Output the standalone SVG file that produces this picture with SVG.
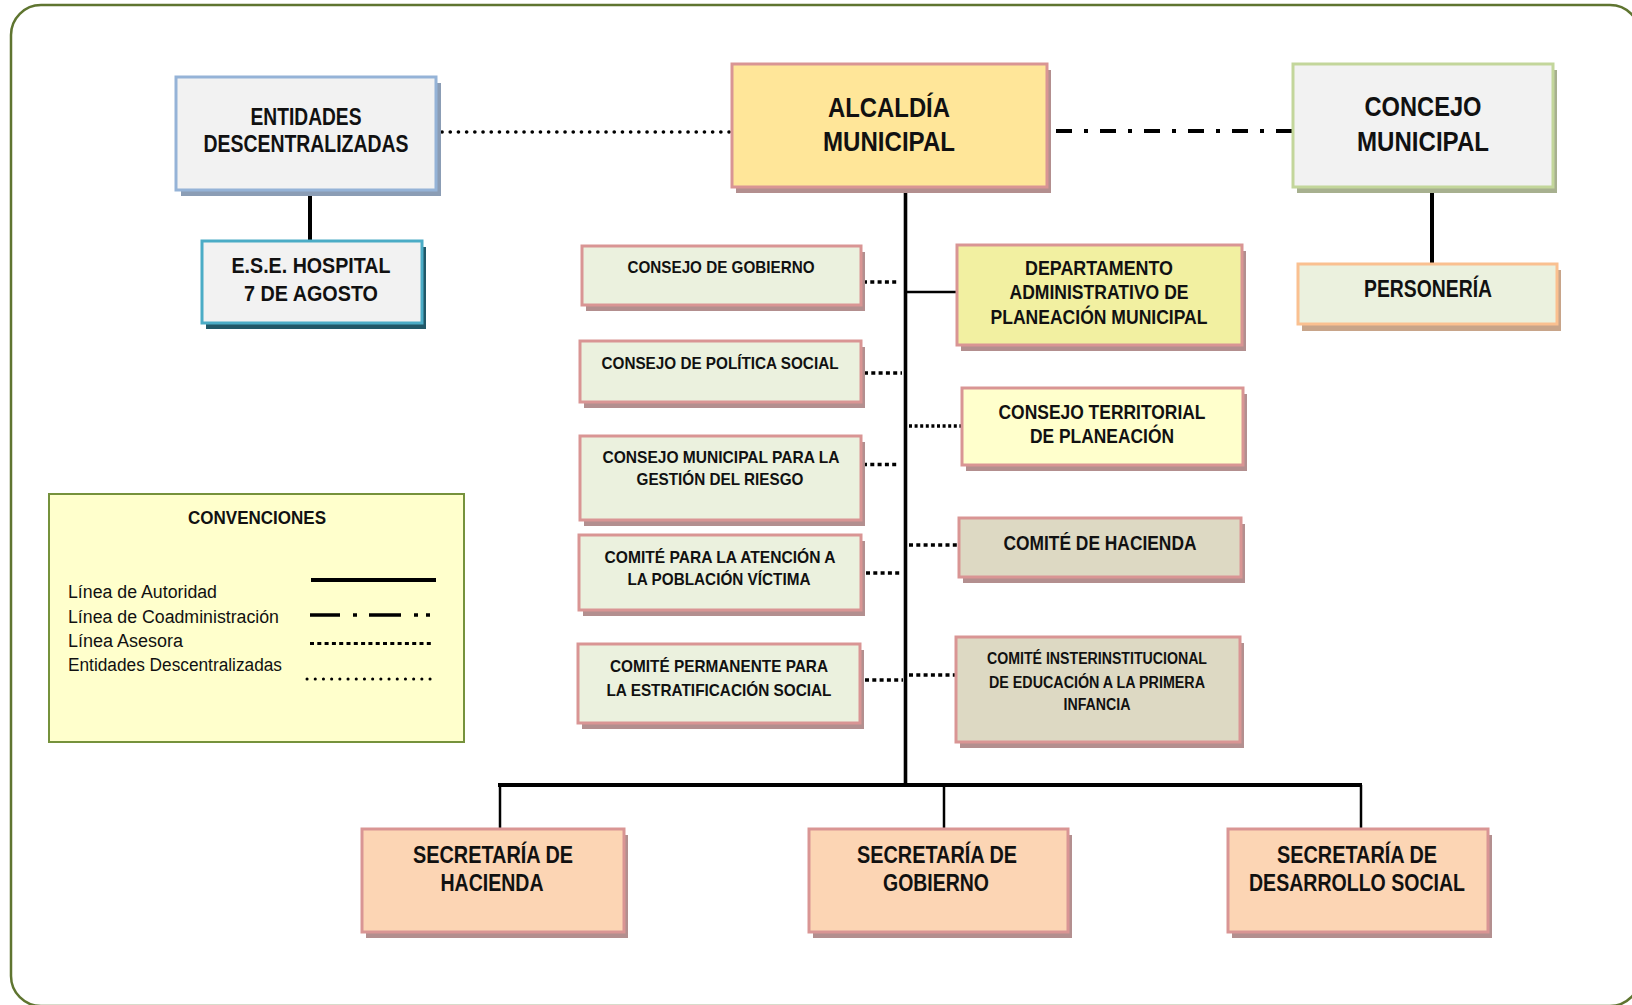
<svg xmlns="http://www.w3.org/2000/svg" width="1632" height="1005" viewBox="0 0 1632 1005">
<style>
.t{font-family:"Liberation Sans Narrow","Liberation Sans",Arial,sans-serif;font-weight:bold;fill:#111;text-anchor:middle}
.lg{font-family:"Liberation Sans Narrow","Liberation Sans",Arial,sans-serif;fill:#111}
.box{stroke-width:3}
.pink{stroke:#d99594}
.sh{fill:#b38f8f}
.auth{stroke:#000;fill:none}
.ases{stroke:#000;stroke-width:3.5;stroke-dasharray:4 3.3;fill:none}
.ent{stroke:#000;stroke-width:3.6;stroke-linecap:round;stroke-dasharray:0.1 8.1;fill:none}
.coad{stroke:#000;stroke-width:4;stroke-dasharray:16 12 4 12;fill:none}
</style>
<rect x="0" y="0" width="1632" height="1005" fill="#fff"/>
<rect x="11" y="5" width="1629" height="1001" rx="30" ry="30" fill="#fff" stroke="#5f7530" stroke-width="2.5"/>

<g id="connectors">
  <line class="auth" x1="310" y1="190" x2="310" y2="241" stroke-width="4"/>
  <line class="auth" x1="905.5" y1="187" x2="905.5" y2="787" stroke-width="3.6"/>
  <line class="auth" x1="905.5" y1="292" x2="957" y2="292" stroke-width="2.5"/>
  <line class="auth" x1="498" y1="785" x2="1362" y2="785" stroke-width="4"/>
  <line class="auth" x1="500" y1="785" x2="500" y2="829" stroke-width="2.5"/>
  <line class="auth" x1="944" y1="785" x2="944" y2="832" stroke-width="2.5"/>
  <line class="auth" x1="1361" y1="785" x2="1361" y2="832" stroke-width="2.5"/>
  <line class="auth" x1="1432" y1="189" x2="1432" y2="264" stroke-width="4"/>
  <line class="ent" x1="442" y1="132" x2="731" y2="132"/>
  <line class="coad" x1="1056" y1="131" x2="1293" y2="131"/>
  <line class="ases" x1="863" y1="282" x2="898" y2="282"/>
  <line class="ases" x1="864" y1="373" x2="902" y2="373"/>
  <line class="ases" x1="863" y1="464.5" x2="899" y2="464.5"/>
  <line class="ases" x1="866" y1="573" x2="902" y2="573"/>
  <line class="ases" x1="865" y1="680" x2="903" y2="680"/>
  <line class="ases" x1="909" y1="426" x2="961" y2="426" stroke="#555" stroke-width="3" style="stroke-dasharray:3 2.6"/>
  <line class="ases" x1="909" y1="545" x2="958" y2="545"/>
  <line class="ases" x1="909" y1="675" x2="956" y2="675"/>
</g>

<g id="entidades">
  <rect x="181" y="83" width="260" height="113" fill="#8b9db5"/>
  <rect class="box" x="176" y="77" width="260" height="113" fill="#f2f2f2" stroke="#95b3d7"/>
  <text class="t" x="306" y="125" font-size="23" textLength="111" lengthAdjust="spacingAndGlyphs">ENTIDADES</text>
  <text class="t" x="306" y="152" font-size="23" textLength="205" lengthAdjust="spacingAndGlyphs">DESCENTRALIZADAS</text>
</g>
<g id="ese_hospital">
  <rect x="206" y="247" width="220" height="82" fill="#215868"/>
  <rect class="box" x="202" y="241" width="220" height="82" fill="#f2f2f2" stroke="#4bacc6"/>
  <text class="t" x="311" y="273" font-size="22" textLength="159" lengthAdjust="spacingAndGlyphs">E.S.E. HOSPITAL</text>
  <text class="t" x="311" y="301" font-size="22" textLength="134" lengthAdjust="spacingAndGlyphs">7 DE AGOSTO</text>
</g>
<g id="alcaldia">
  <rect class="sh" x="736" y="70" width="315" height="123"/>
  <rect class="box pink" x="732" y="64" width="315" height="123" fill="#ffe699"/>
  <text class="t" x="889" y="117" font-size="27" textLength="122" lengthAdjust="spacingAndGlyphs">ALCALDÍA</text>
  <text class="t" x="889" y="151" font-size="27" textLength="132" lengthAdjust="spacingAndGlyphs">MUNICIPAL</text>
</g>
<g id="concejo">
  <rect x="1297" y="70" width="260" height="123" fill="#a7b08f"/>
  <rect class="box" x="1293" y="64" width="260" height="123" fill="#f2f2f2" stroke="#c3d69b"/>
  <text class="t" x="1423" y="116" font-size="27" textLength="117" lengthAdjust="spacingAndGlyphs">CONCEJO</text>
  <text class="t" x="1423" y="151" font-size="27" textLength="132" lengthAdjust="spacingAndGlyphs">MUNICIPAL</text>
</g>
<g id="personeria">
  <rect x="1302" y="270" width="259" height="61" fill="#c8a58a"/>
  <rect class="box" x="1298" y="264" width="259" height="60" fill="#ebf1de" stroke="#fac090"/>
  <text class="t" x="1428" y="297" font-size="24" textLength="128" lengthAdjust="spacingAndGlyphs">PERSONERÍA</text>
</g>
<g id="consejo_gobierno">
  <rect class="sh" x="586" y="252" width="279" height="59"/>
  <rect class="box pink" x="582" y="246" width="279" height="59" fill="#ebf1de"/>
  <text class="t" x="721" y="273" font-size="17" textLength="187" lengthAdjust="spacingAndGlyphs">CONSEJO DE GOBIERNO</text>
</g>
<g id="consejo_politica_social">
  <rect class="sh" x="584" y="347" width="281" height="61"/>
  <rect class="box pink" x="580" y="341" width="281" height="61" fill="#ebf1de"/>
  <text class="t" x="720" y="369" font-size="17" textLength="237" lengthAdjust="spacingAndGlyphs">CONSEJO DE POLÍTICA SOCIAL</text>
</g>
<g id="consejo_gestion_riesgo">
  <rect class="sh" x="584" y="442" width="281" height="84"/>
  <rect class="box pink" x="580" y="436" width="281" height="84" fill="#ebf1de"/>
  <text class="t" x="721" y="463" font-size="17" textLength="237" lengthAdjust="spacingAndGlyphs">CONSEJO MUNICIPAL PARA LA</text>
  <text class="t" x="720" y="485" font-size="17" textLength="167" lengthAdjust="spacingAndGlyphs">GESTIÓN DEL RIESGO</text>
</g>
<g id="comite_poblacion_victima">
  <rect class="sh" x="583" y="541" width="282" height="75"/>
  <rect class="box pink" x="579" y="535" width="282" height="75" fill="#ebf1de"/>
  <text class="t" x="720" y="563" font-size="17" textLength="231" lengthAdjust="spacingAndGlyphs">COMITÉ PARA LA ATENCIÓN A</text>
  <text class="t" x="719" y="585" font-size="17" textLength="183" lengthAdjust="spacingAndGlyphs">LA POBLACIÓN VÍCTIMA</text>
</g>
<g id="comite_estratificacion">
  <rect class="sh" x="582" y="650" width="282" height="79"/>
  <rect class="box pink" x="578" y="644" width="282" height="79" fill="#ebf1de"/>
  <text class="t" x="719" y="672" font-size="17" textLength="218" lengthAdjust="spacingAndGlyphs">COMITÉ PERMANENTE PARA</text>
  <text class="t" x="719" y="696" font-size="17" textLength="225" lengthAdjust="spacingAndGlyphs">LA ESTRATIFICACIÓN SOCIAL</text>
</g>
<g id="departamento_planeacion">
  <rect class="sh" x="961" y="251" width="285" height="100"/>
  <rect class="box pink" x="957" y="245" width="285" height="100" fill="#f2f0a1"/>
  <text class="t" x="1099" y="275" font-size="21" textLength="148" lengthAdjust="spacingAndGlyphs">DEPARTAMENTO</text>
  <text class="t" x="1099" y="299" font-size="21" textLength="179" lengthAdjust="spacingAndGlyphs">ADMINISTRATIVO DE</text>
  <text class="t" x="1099" y="324" font-size="21" textLength="217" lengthAdjust="spacingAndGlyphs">PLANEACIÓN MUNICIPAL</text>
</g>
<g id="consejo_territorial">
  <rect class="sh" x="966" y="394" width="281" height="77"/>
  <rect class="box pink" x="962" y="388" width="281" height="77" fill="#ffffcc"/>
  <text class="t" x="1102" y="419" font-size="21" textLength="207" lengthAdjust="spacingAndGlyphs">CONSEJO TERRITORIAL</text>
  <text class="t" x="1102" y="443" font-size="21" textLength="144" lengthAdjust="spacingAndGlyphs">DE PLANEACIÓN</text>
</g>
<g id="comite_hacienda">
  <rect class="sh" x="963" y="524" width="282" height="59"/>
  <rect class="box pink" x="959" y="518" width="282" height="59" fill="#ddd9c3"/>
  <text class="t" x="1100" y="550" font-size="20" textLength="193" lengthAdjust="spacingAndGlyphs">COMITÉ DE HACIENDA</text>
</g>
<g id="comite_primera_infancia">
  <rect class="sh" x="960" y="643" width="284" height="105"/>
  <rect class="box pink" x="956" y="637" width="284" height="105" fill="#ddd9c3"/>
  <text class="t" x="1097" y="664" font-size="16" textLength="220" lengthAdjust="spacingAndGlyphs">COMITÉ INSTERINSTITUCIONAL</text>
  <text class="t" x="1097" y="688" font-size="16" textLength="216" lengthAdjust="spacingAndGlyphs">DE EDUCACIÓN A LA PRIMERA</text>
  <text class="t" x="1097" y="710" font-size="16" textLength="67" lengthAdjust="spacingAndGlyphs">INFANCIA</text>
</g>
<g id="secretaria_hacienda">
  <rect class="sh" x="366" y="835" width="262" height="103"/>
  <rect class="box pink" x="362" y="829" width="262" height="103" fill="#fcd5b4"/>
  <text class="t" x="493" y="863" font-size="23" textLength="160" lengthAdjust="spacingAndGlyphs">SECRETARÍA DE</text>
  <text class="t" x="492" y="891" font-size="23" textLength="103" lengthAdjust="spacingAndGlyphs">HACIENDA</text>
</g>
<g id="secretaria_gobierno">
  <rect class="sh" x="813" y="835" width="259" height="103"/>
  <rect class="box pink" x="809" y="829" width="259" height="103" fill="#fcd5b4"/>
  <text class="t" x="937" y="863" font-size="23" textLength="160" lengthAdjust="spacingAndGlyphs">SECRETARÍA DE</text>
  <text class="t" x="936" y="891" font-size="23" textLength="106" lengthAdjust="spacingAndGlyphs">GOBIERNO</text>
</g>
<g id="secretaria_desarrollo_social">
  <rect class="sh" x="1232" y="835" width="260" height="103"/>
  <rect class="box pink" x="1228" y="829" width="260" height="103" fill="#fcd5b4"/>
  <text class="t" x="1357" y="863" font-size="23" textLength="160" lengthAdjust="spacingAndGlyphs">SECRETARÍA DE</text>
  <text class="t" x="1357" y="891" font-size="23" textLength="216" lengthAdjust="spacingAndGlyphs">DESARROLLO SOCIAL</text>
</g>

<g id="convenciones">
  <rect x="49" y="494" width="415" height="248" fill="#ffffcc" stroke="#76923c" stroke-width="2"/>
  <text class="t" x="257" y="524" font-size="18" textLength="138" lengthAdjust="spacingAndGlyphs">CONVENCIONES</text>
  <text class="lg" x="68" y="598" font-size="18" textLength="149" lengthAdjust="spacingAndGlyphs">Línea de Autoridad</text>
  <text class="lg" x="68" y="623" font-size="18" textLength="211" lengthAdjust="spacingAndGlyphs">Línea de Coadministración</text>
  <text class="lg" x="68" y="647" font-size="18" textLength="115" lengthAdjust="spacingAndGlyphs">Línea Asesora</text>
  <text class="lg" x="68" y="671" font-size="18" textLength="214" lengthAdjust="spacingAndGlyphs">Entidades Descentralizadas</text>
  <line x1="311" y1="580" x2="436" y2="580" stroke="#000" stroke-width="4"/>
  <line x1="310" y1="615" x2="432" y2="615" stroke="#000" stroke-width="3.5" stroke-dasharray="30 13 4 12 32 13 4 8 4 100"/>
  <line class="ases" x1="310" y1="643.5" x2="432" y2="643.5" style="stroke-width:3.2"/>
  <line class="ent" x1="307" y1="679" x2="432" y2="679" style="stroke-width:3"/>
</g>
</svg>
